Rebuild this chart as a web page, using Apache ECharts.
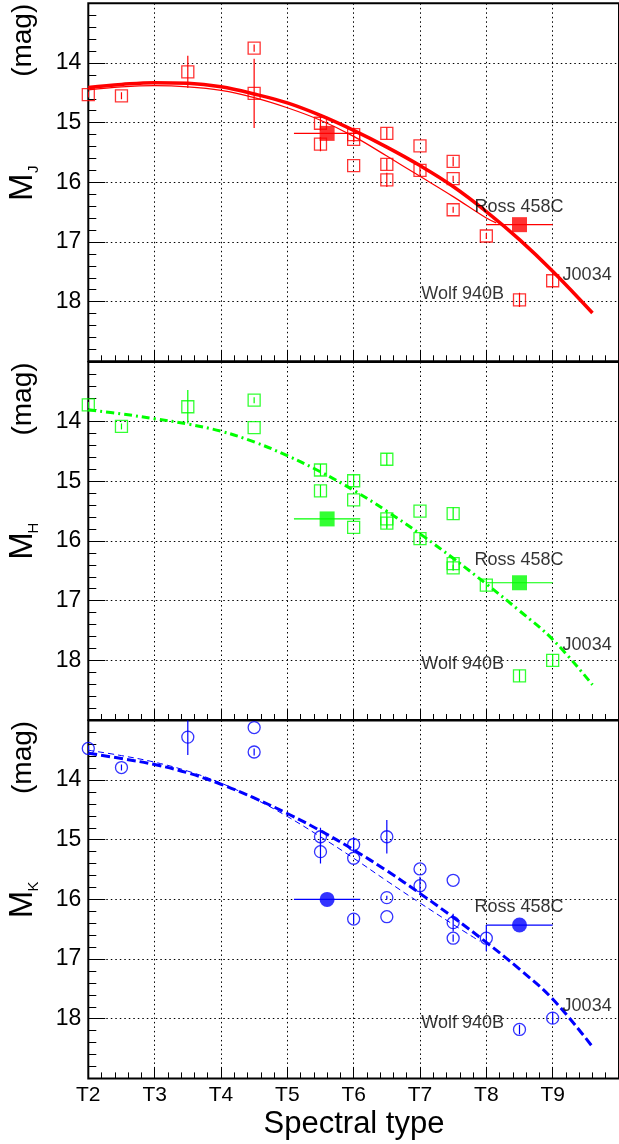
<!DOCTYPE html>
<html><head><meta charset="utf-8">
<script src="https://cdn.jsdelivr.net/npm/echarts@6/dist/echarts.min.js"></script>
<style>html,body{margin:0;padding:0;background:#fff}#c{width:619px;height:1144px}</style>
</head><body><div id="c"></div>
<script>
const xTickLabels = ['T2','T3','T4','T5','T6','T7','T8','T9'];
const yTickLabels = ['14','15','16','17','18'];
const bandNames = ['J','H','K'];

// open symbols: [spectral type, absolute mag, mag error]
const jOpen = [
  [2.0,14.53,0.05],[2.5,14.55,0.06],[3.5,14.15,0.27],[4.5,13.75,0.06],[4.5,14.51,0.58],
  [5.5,15.01,0.12],[5.5,15.36,0.12],[6.0,15.20,0.12],[6.0,15.28,0.05],[6.0,15.72,0],
  [6.5,15.18,0.1],[6.5,15.70,0.1],[6.5,15.96,0.12],[7.0,15.39,0],[7.0,15.80,0.08],
  [7.5,15.65,0.08],[7.5,15.94,0.05],[7.5,16.46,0.05],[8.0,16.90,0.05],[9.0,17.65,0.1],[8.5,17.97,0.12]
];
const hOpen = [
  [2.0,13.72,0.05],[2.5,14.08,0.05],[3.5,13.75,0.28],[4.5,13.64,0.05],[4.5,14.10,0],
  [5.5,14.81,0.1],[5.5,15.16,0.1],[6.0,14.99,0.1],[6.0,15.31,0],[6.0,15.77,0],
  [6.5,14.63,0.1],[6.5,15.63,0.15],[6.5,15.70,0.1],[7.0,15.50,0],[7.0,15.96,0.1],
  [7.5,15.54,0.1],[7.5,16.38,0.1],[7.5,16.45,0.05],[8.0,16.74,0.1],[9.0,18.00,0.1],[8.5,18.26,0.1]
];
const kOpen = [
  [2.0,13.47,0.05],[2.5,13.79,0.05],[3.5,13.28,0.3],[4.5,13.12,0],[4.5,13.53,0.06],
  [5.5,14.95,0.15],[5.5,15.20,0.2],[6.0,15.08,0.12],[6.0,15.31,0],[6.0,16.33,0.08],
  [6.5,14.95,0.28],[6.5,15.97,0.03],[6.5,16.29,0],[7.0,15.49,0],[7.0,15.77,0.15],
  [7.5,15.68,0],[7.5,16.39,0.15],[7.5,16.65,0.06],[8.0,16.65,0.22],[9.0,17.99,0.1],[8.5,18.18,0.08]
];

// filled symbols: [spectral type, absolute mag, type low, type high]
const jFilled = [[5.6,15.18,5.1,6.1],[8.5,16.71,8.0,9.0]];
const hFilled = [[5.6,15.63,5.1,6.1],[8.5,16.70,8.0,9.0]];
const kFilled = [[5.6,16.00,5.1,6.1],[8.5,16.43,8.0,9.0]];

// fitted relations: [spectral type, absolute mag]
const jFitBold = [[2.0,14.41],[2.5,14.36],[3.0,14.33],[3.5,14.34],[4.0,14.40],[4.5,14.52],[5.0,14.67],[5.5,14.88],[6.0,15.13],[6.5,15.41],[7.0,15.72],[7.5,16.07],[8.0,16.49],[8.5,16.96],[9.0,17.49],[9.6,18.19]];
const jFitThin = [[2.0,14.45],[2.5,14.40],[3.0,14.38],[3.5,14.40],[4.0,14.46],[4.5,14.58],[5.0,14.75],[5.5,14.96],[6.0,15.23],[6.5,15.56],[7.0,15.90],[7.5,16.24],[8.0,16.60],[8.15,16.68]];
const hFit = [[2.0,13.80],[2.5,13.87],[3.0,13.95],[3.5,14.04],[4.0,14.16],[4.5,14.34],[5.0,14.57],[5.5,14.84],[6.0,15.15],[6.5,15.50],[7.0,15.88],[7.5,16.29],[8.0,16.72],[8.5,17.17],[9.0,17.65],[9.6,18.41]];
const kFitBold = [[2.0,13.55],[2.5,13.64],[3.0,13.74],[3.5,13.88],[4.0,14.07],[4.5,14.30],[5.0,14.56],[5.5,14.85],[6.0,15.17],[6.5,15.52],[7.0,15.90],[7.5,16.30],[8.0,16.72],[8.5,17.17],[9.0,17.67],[9.6,18.47]];
const kFitThin = [[2.0,13.50],[2.5,13.59],[3.0,13.70],[3.5,13.85],[4.0,14.05],[4.5,14.31],[5.0,14.61],[5.5,14.95],[6.0,15.31],[6.5,15.69],[7.0,16.06],[7.5,16.42],[7.9,16.70]];

// object labels: [name, spectral type, mag]
const jNames = [['Ross 458C',7.82,16.41],['J0034',9.15,17.55],['Wolf 940B',7.02,17.87]];
const hNames = [['Ross 458C',7.82,16.32],['J0034',9.15,17.75],['Wolf 940B',7.02,18.06]];
const kNames = [['Ross 458C',7.82,16.12],['J0034',9.15,17.78],['Wolf 940B',7.02,18.08]];

const FONT = 'Liberation Sans, Arial, sans-serif';
const colors = ['#ff0000', '#00ff00', '#0000ff'];
const symbols = ['rect', 'rect', 'circle'];
const opens = [jOpen, hOpen, kOpen];
const filleds = [jFilled, hFilled, kFilled];
const names = [jNames, hNames, kNames];
const fits = [
  [{d: jFitBold, w: 3.5, t: 'solid'}, {d: jFitThin, w: 1.2, t: 'solid'}],
  [{d: hFit, w: 3, t: [8, 4, 2, 4]}],
  [{d: kFitBold, w: 3, t: [9, 4]}, {d: kFitThin, w: 1, t: [6, 4]}]
];
const tops = [3.3, 362.0, 720.4];
const H = 358;

const grid = tops.map(t => ({left: 88.3, right: 0, top: t, height: H, show: true,
  borderColor: '#000', borderWidth: 2, backgroundColor: 'transparent', outerBoundsMode: 'none', containLabel: false}));

const xAxis = tops.map((t, i) => ({
  type: 'value', gridIndex: i, min: 2, max: 10, interval: 1,
  axisLine: {show: false},
  axisTick: {show: true, inside: true, length: 11, lineStyle: {color: '#000', width: 1}},
  minorTick: {show: true, splitNumber: 5, length: 6, lineStyle: {color: '#000', width: 1}},
  splitLine: {show: true, lineStyle: {color: '#000', width: 1, type: [1.5, 3]}},
  axisLabel: {show: i === 2, margin: 6, color: '#000', fontSize: 21, fontFamily: FONT,
    formatter: v => xTickLabels[v - 2] || ''}
}));

const yAxis = tops.map((t, i) => ({
  type: 'value', gridIndex: i, min: 13, max: 19, interval: 1, inverse: true,
  axisLine: {show: false},
  axisTick: {show: true, inside: true, length: 17, lineStyle: {color: '#000', width: 1}},
  minorTick: {show: true, splitNumber: 5, length: 8, lineStyle: {color: '#000', width: 1}},
  splitLine: {show: true, lineStyle: {color: '#000', width: 1, type: [1.5, 3]}},
  axisLabel: {margin: 7, color: '#000', fontSize: 23, fontFamily: FONT,
    formatter: v => yTickLabels.indexOf(String(v)) >= 0 ? String(v) : ''}
}));

const series = [];
tops.forEach((t, i) => {
  const c = colors[i];
  fits[i].forEach(f => series.push({
    type: 'line', xAxisIndex: i, yAxisIndex: i, data: f.d, smooth: 0.4, showSymbol: false,
    lineStyle: {color: c, width: f.w, type: f.t}, silent: true, z: 3
  }));
  series.push({
    type: 'custom', xAxisIndex: i, yAxisIndex: i, data: opens[i], encode: {x: 0, y: 1}, clip: true, silent: true, z: 4,
    renderItem: (p, api) => {
      const x = api.value(0), m = api.value(1), e = api.value(2);
      if (!e) return null;
      const a = api.coord([x, m - e]), b = api.coord([x, m + e]);
      return {type: 'line', shape: {x1: a[0], y1: a[1], x2: b[0], y2: b[1]}, style: {stroke: c, lineWidth: 1.2}};
    }
  });
  series.push({
    type: 'custom', xAxisIndex: i, yAxisIndex: i, data: filleds[i], encode: {x: 0, y: 1}, clip: true, silent: true, z: 4,
    renderItem: (p, api) => {
      const m = api.value(1);
      const a = api.coord([api.value(2), m]), b = api.coord([api.value(3), m]);
      return {type: 'line', shape: {x1: a[0], y1: a[1], x2: b[0], y2: b[1]}, style: {stroke: c, lineWidth: 1.2}};
    }
  });
  series.push({
    type: 'scatter', xAxisIndex: i, yAxisIndex: i, data: opens[i].map(r => [r[0], r[1]]),
    symbol: symbols[i], symbolSize: 12, silent: true, z: 5,
    itemStyle: {color: 'rgba(0,0,0,0)', borderColor: c, borderWidth: 1.3}
  });
  series.push({
    type: 'scatter', xAxisIndex: i, yAxisIndex: i, data: filleds[i].map(r => [r[0], r[1]]),
    symbol: symbols[i], symbolSize: 15, silent: true, z: 5,
    itemStyle: {color: c}
  });
  series.push({
    type: 'scatter', xAxisIndex: i, yAxisIndex: i, symbolSize: 0, silent: true, z: 6,
    data: names[i].map(r => ({name: r[0], value: [r[1], r[2]]})),
    label: {show: true, position: 'right', distance: 0, formatter: '{b}', color: '#000', fontSize: 18, fontFamily: FONT}
  });
});

const graphic = [];
tops.forEach((t, i) => {
  graphic.push({type: 'text', x: 23.5, y: t + 37, rotation: Math.PI / 2,
    style: {text: '(mag)', fill: '#000', font: '28px ' + FONT, align: 'center', verticalAlign: 'middle'}});
  graphic.push({type: 'text', x: 23, y: t + 184, rotation: Math.PI / 2,
    style: {text: 'M', fill: '#000', font: '33px ' + FONT, align: 'center', verticalAlign: 'middle'}});
  graphic.push({type: 'text', x: 34, y: t + 166, rotation: Math.PI / 2,
    style: {text: bandNames[i], fill: '#000', font: '15px ' + FONT, align: 'center', verticalAlign: 'middle'}});
});
graphic.push({type: 'text', x: 354, y: 1124,
  style: {text: 'Spectral type', fill: '#000', font: '31px ' + FONT, align: 'center', verticalAlign: 'middle'}});

const chart = echarts.init(document.getElementById('c'), null, {renderer: 'canvas'});
chart.setOption({animation: false, backgroundColor: '#fff', grid, xAxis, yAxis, series, graphic});
</script></body></html>
